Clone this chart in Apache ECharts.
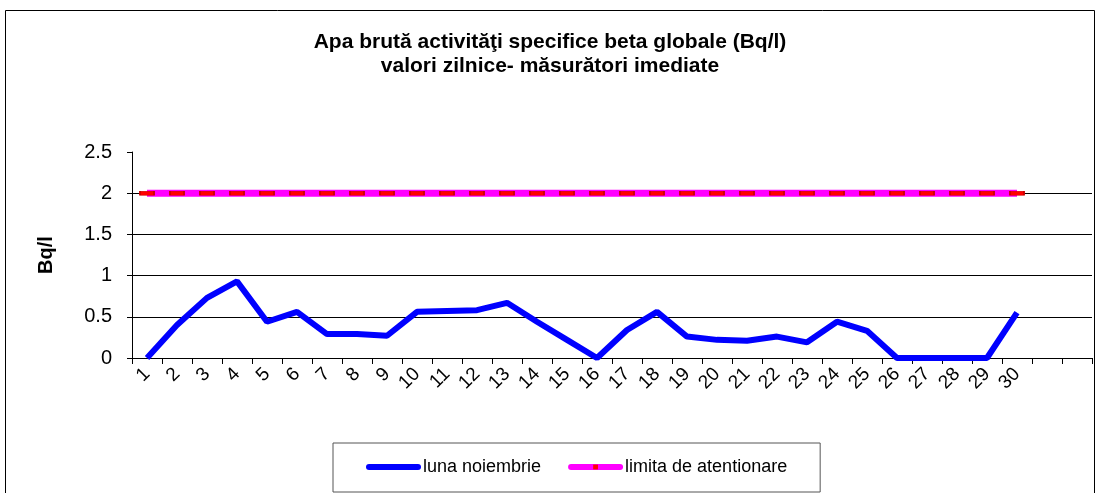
<!DOCTYPE html>
<html>
<head>
<meta charset="utf-8">
<script src="https://cdn.jsdelivr.net/npm/echarts@6/dist/echarts.min.js"></script>
<style>
html, body { margin: 0; padding: 0; background: #fff; }
#chart { width: 1100px; height: 493px; }
</style>
</head>
<body>
<div id="chart"></div>
<script>
// zilele lunii (ultimele doua categorii raman goale)
var days = ["1","2","3","4","5","6","7","8","9","10","11","12","13","14","15","16","17","18","19","20","21","22","23","24","25","26","27","28","29","30","",""];
var lunaNoiembrie = [0, 0.4, 0.73, 0.93, 0.44, 0.56, 0.29, 0.29, 0.27, 0.56, 0.57, 0.58, 0.67, 0.44, 0.22, 0, 0.34, 0.56, 0.26, 0.22, 0.21, 0.26, 0.19, 0.44, 0.33, 0, 0, 0, 0, 0.55];
var limita = [2, 2, 2, 2, 2, 2, 2, 2, 2, 2, 2, 2, 2, 2, 2, 2, 2, 2, 2, 2, 2, 2, 2, 2, 2, 2, 2, 2, 2, 2];
var yTicks = [0, 0.5, 1, 1.5, 2, 2.5];

var dom = document.getElementById("chart");
var myChart = echarts.init(dom);

var option = {
    animation: false,
    backgroundColor: '#fff',
    title: {
        text: 'Apa brută activităţi specifice beta globale (Bq/l)\nvalori zilnice- măsurători imediate',
        left: 'center',
        top: 25,
        textStyle: {
            fontFamily: 'Arial, Liberation Sans',
            fontSize: 21,
            fontWeight: 'bold',
            color: '#000',
            lineHeight: 24
        }
    },
    graphic: [{
        type: 'rect',
        shape: { x: 5.5, y: 10.5, width: 1089, height: 500 },
        style: { fill: 'none', stroke: '#000', lineWidth: 1 },
        silent: true
    }],
    legend: {
        data: [
            {
                name: 'luna noiembrie',
                lineStyle: { width: 6, cap: 'round' },
                itemStyle: { color: '#0000FF', borderWidth: 0 }
            },
            {
                name: 'limita de atentionare',
                lineStyle: { width: 6, cap: 'round' },
                itemStyle: { color: '#FF0000', borderWidth: 0 }
            }
        ],
        left: 333,
        top: 443,
        padding: [15, 33, 16, 33],
        itemGap: 27,
        itemWidth: 49,
        itemHeight: 6,
        itemTextGap: 3,
        borderColor: '#555',
        borderWidth: 1,
        textStyle: {
            fontFamily: 'Arial, Liberation Sans',
            fontSize: 18,
            color: '#000'
        }
    },
    grid: {
        left: 132,
        right: 8,
        top: 152,
        bottom: 135,
        containLabel: false
    },
    xAxis: {
        type: 'category',
        data: days,
        boundaryGap: true,
        axisLine: { lineStyle: { color: '#000', width: 1 } },
        axisTick: { show: true, length: 6, lineStyle: { color: '#000' } },
        axisLabel: {
            rotate: 45,
            interval: 0,
            margin: 13,
            fontFamily: 'Arial, Liberation Sans',
            fontSize: 19,
            color: '#000'
        },
        splitLine: { show: false }
    },
    yAxis: {
        type: 'value',
        min: yTicks[0],
        max: yTicks[yTicks.length - 1],
        interval: 0.5,
        name: 'Bq/l',
        nameLocation: 'middle',
        nameGap: 76,
        nameTextStyle: {
            fontFamily: 'Arial, Liberation Sans',
            fontSize: 20,
            fontWeight: 'bold',
            color: '#000'
        },
        axisLine: { show: true, lineStyle: { color: '#000', width: 1 } },
        axisTick: { show: true, length: 5, lineStyle: { color: '#000' } },
        axisLabel: {
            margin: 20,
            fontFamily: 'Arial, Liberation Sans',
            fontSize: 20,
            color: '#000'
        },
        splitLine: {
            show: true,
            lineStyle: { color: ['#000', '#000', '#000', '#000', '#000', 'rgba(0,0,0,0)'], width: 1 }
        }
    },
    series: [
        {
            name: 'luna noiembrie',
            type: 'line',
            data: lunaNoiembrie,
            symbol: 'none',
            color: '#0000FF',
            lineStyle: { color: '#0000FF', width: 6 },
            z: 3
        },
        {
            name: 'limita de atentionare',
            type: 'line',
            data: limita,
            symbol: 'rect',
            symbolSize: [14, 4],
            showAllSymbol: true,
            color: '#FF00FF',
            lineStyle: { color: '#FF00FF', width: 7 },
            itemStyle: { color: '#FF0000', borderColor: '#CC0000', borderWidth: 1 },
            z: 2
        }
    ]
};

if (option && typeof option === "object") {
    myChart.setOption(option, true);
}
</script>
</body>
</html>
